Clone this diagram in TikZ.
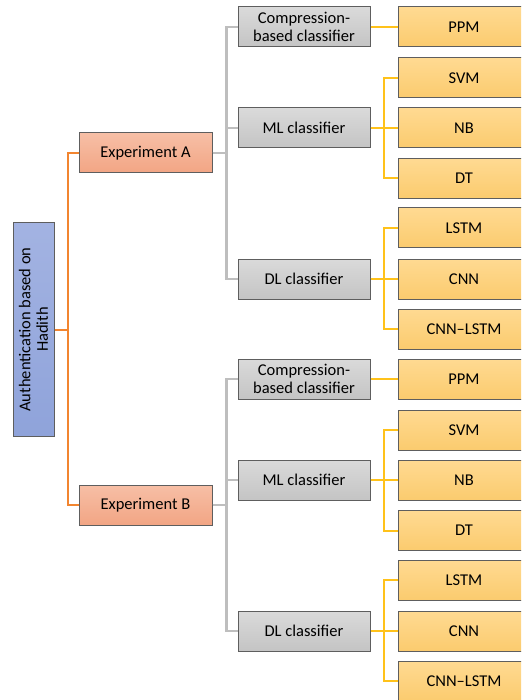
\documentclass[tikz,border=0pt]{standalone}
\usepackage{fontspec}
\setmainfont{Carlito}
\definecolor{rootfill}{HTML}{A3B3E2}
\definecolor{rootfillb}{HTML}{8FA3DA}
\definecolor{expfill}{HTML}{F7BFA6}
\definecolor{expfillb}{HTML}{F2A584}
\definecolor{grayfill}{HTML}{DADADA}
\definecolor{grayfillb}{HTML}{C4C4C4}
\definecolor{orfill}{HTML}{FFDA92}
\definecolor{orfillb}{HTML}{FBCB6E}
\definecolor{lineorange}{HTML}{F28530}
\definecolor{linegray}{HTML}{BEBEBE}
\definecolor{lineyellow}{HTML}{FFC21A}
\definecolor{bordergray}{HTML}{5E5E5E}
\begin{document}
\begin{tikzpicture}[x=1pt,y=-1pt,
  every node/.style={font=\fontsize{16.5}{17.5}\selectfont, text=black, align=center, inner sep=0pt},
  rootbox/.style={draw=bordergray, line width=1pt, top color=rootfill, bottom color=rootfillb, minimum width=213pt, minimum height=41pt, rotate=90},
  expbox/.style={draw=bordergray, line width=1pt, top color=expfill, bottom color=expfillb, minimum width=133pt, minimum height=40pt},
  graybox/.style={draw=bordergray, line width=1pt, top color=grayfill, bottom color=grayfillb, minimum width=132pt, minimum height=40pt},
  leafbox/.style={draw=bordergray, line width=1pt, top color=orfill, bottom color=orfillb, minimum width=132pt, minimum height=40pt},
  rootline/.style={draw=lineorange, line width=2pt},
  grayline/.style={draw=linegray, line width=2.4pt},
  yelline/.style={draw=lineyellow, line width=2pt}
]
\useasboundingbox (0,0) rectangle (521,700);
\clip (0,0) rectangle (521,700);

\node[rootbox] (root) at (33.5,329.5) {Authentication based on\\Hadith};
\node[expbox] (ea) at (145.5,153) {Experiment A};
\node[expbox] (eb) at (145.5,505) {Experiment B};

\node[graybox] (ca) at (304,27) {Compression-\\based classifier};
\node[graybox] (ma) at (304,128) {ML classifier};
\node[graybox] (da) at (304,279) {DL classifier};
\node[graybox] (cb) at (304,379) {Compression-\\based classifier};
\node[graybox] (mb) at (304,480) {ML classifier};
\node[graybox] (db) at (304,631) {DL classifier};

\node[leafbox] (pa) at (464,27) {PPM};
\node[leafbox] (sa) at (464,78) {SVM};
\node[leafbox] (na) at (464,128) {NB};
\node[leafbox] (ta) at (464,178.5) {DT};
\node[leafbox] (la) at (464,228) {LSTM};
\node[leafbox] (ka) at (464,279) {CNN};
\node[leafbox] (xa) at (464,329) {CNN--LSTM};

\node[leafbox] (pb) at (464,379) {PPM};
\node[leafbox] (sb) at (464,430) {SVM};
\node[leafbox] (nb) at (464,480) {NB};
\node[leafbox] (tb) at (464,530.5) {DT};
\node[leafbox] (lb) at (464,580) {LSTM};
\node[leafbox] (kb) at (464,631) {CNN};
\node[leafbox] (xb) at (464,681) {CNN--LSTM};

% root -> experiments
\path[rootline] (root.south) -- ++(13,0) |- (ea.west);
\path[rootline] (root.south) -- ++(13,0) |- (eb.west);

% experiments -> classifiers
\foreach \e/\c in {ea/ca, ea/ma, ea/da, eb/cb, eb/mb, eb/db}
  \path[grayline] (\e.east) -- ++(14,0) |- (\c.west);

% classifiers -> leaves
\path[yelline] (ca.east) -- (pa.west);
\path[yelline] (cb.east) -- (pb.west);
\foreach \c/\l in {ma/sa, ma/na, ma/ta, da/la, da/ka, da/xa, mb/sb, mb/nb, mb/tb, db/lb, db/kb, db/xb}
  \path[yelline] (\c.east) -- ++(13,0) |- (\l.west);
\end{tikzpicture}
\end{document}
